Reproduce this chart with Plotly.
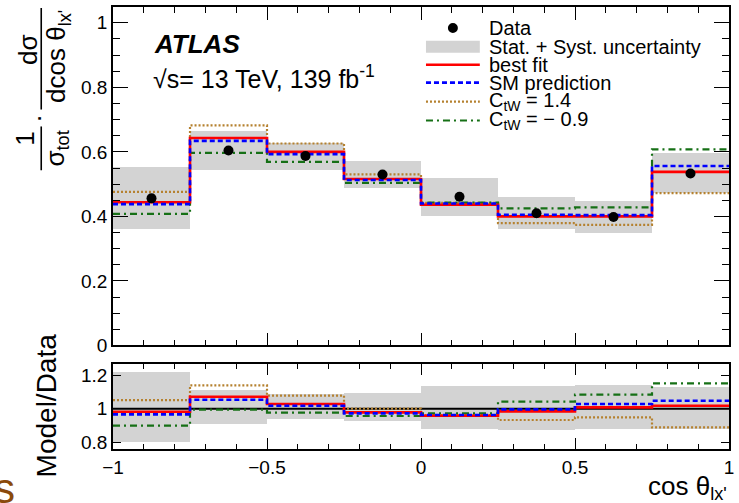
import plotly.graph_objects as go

# ---------------- data ----------------
bin_edges = [-1.0, -0.75, -0.5, -0.25, 0.0, 0.25, 0.5, 0.75, 1.0]
bin_centers = [-0.875, -0.625, -0.375, -0.125, 0.125, 0.375, 0.625, 0.875]

data_vals = [0.456, 0.604, 0.587, 0.530, 0.461, 0.410, 0.398, 0.533]
unc_low = [0.361, 0.544, 0.544, 0.487, 0.402, 0.362, 0.348, 0.474]
unc_high = [0.552, 0.665, 0.628, 0.572, 0.518, 0.459, 0.448, 0.595]
best_fit = [0.444, 0.643, 0.600, 0.516, 0.436, 0.400, 0.400, 0.538]
sm_pred = [0.438, 0.634, 0.593, 0.513, 0.440, 0.405, 0.404, 0.556]
ctw_p14 = [0.476, 0.682, 0.626, 0.530, 0.442, 0.379, 0.374, 0.472]
ctw_m09 = [0.408, 0.597, 0.569, 0.504, 0.443, 0.425, 0.428, 0.608]

r_unc_low = [0.795, 0.904, 0.934, 0.924, 0.878, 0.868, 0.874, 0.878]
r_unc_high = [1.217, 1.108, 1.088, 1.092, 1.132, 1.132, 1.138, 1.128]
r_best_fit = [0.982, 1.072, 1.028, 0.978, 0.958, 0.984, 1.008, 1.018]
r_sm_pred = [0.966, 1.054, 1.018, 0.972, 0.962, 0.996, 1.028, 1.048]
r_ctw_p14 = [1.052, 1.140, 1.078, 1.000, 0.962, 0.932, 0.948, 0.888]
r_ctw_m09 = [0.898, 0.994, 0.976, 0.956, 0.972, 1.042, 1.084, 1.152]

main_yticks = [0, 0.2, 0.4, 0.6, 0.8, 1.0]
ratio_yticks = [0.8, 1.0, 1.2]
ratio_yticklabels = ["0.8", "1", "1.2"]

legend_labels = ["Data", "Stat. + Syst. uncertainty", "best fit", "SM prediction",
                 "C<sub>tW</sub> = 1.4", "C<sub>tW</sub> = \u2212 0.9"]

# ---------------- styles ----------------
FONT = "Liberation Sans, Arial, Helvetica, sans-serif"
GREY = "#d3d3d3"
RED = "#ff0000"
BLUE = "#0000ff"
ORANGE = "#b5812f"
GREEN = "#167016"

W, H = 739, 503
ML, MR, MT, MB = 113, 8, 5, 54
PW, PH = W - ML - MR, H - MT - MB


def px(x):
    return (x - ML) / PW


def py(y):
    return (H - MB - y) / PH


styles = {
    "bf": dict(color=RED, width=2.6, dash="solid"),
    "sm": dict(color=BLUE, width=2.6, dash="5px,3px"),
    "p14": dict(color=ORANGE, width=2.2, dash="2px,2px"),
    "m09": dict(color=GREEN, width=2.2, dash="7px,4px,2px,4px"),
}

fig = go.Figure()


def step(vals, style, xa, ya):
    fig.add_trace(go.Scatter(x=bin_edges, y=list(vals) + [vals[-1]], mode="lines",
                             line=dict(shape="hv", **style), xaxis=xa, yaxis=ya,
                             showlegend=False, hoverinfo="skip"))


# main panel
fig.add_trace(go.Bar(x=bin_centers, y=[h - l for h, l in zip(unc_high, unc_low)], base=unc_low,
                     width=0.25, marker=dict(color=GREY, line=dict(width=0)),
                     xaxis="x", yaxis="y", showlegend=False))
step(ctw_p14, styles["p14"], "x", "y")
step(ctw_m09, styles["m09"], "x", "y")
step(best_fit, styles["bf"], "x", "y")
step(sm_pred, styles["sm"], "x", "y")
fig.add_trace(go.Scatter(x=bin_centers, y=data_vals, mode="markers",
                         marker=dict(color="black", size=10), xaxis="x", yaxis="y",
                         showlegend=False))

# ratio panel
fig.add_trace(go.Bar(x=bin_centers, y=[h - l for h, l in zip(r_unc_high, r_unc_low)], base=r_unc_low,
                     width=0.25, marker=dict(color=GREY, line=dict(width=0)),
                     xaxis="x2", yaxis="y2", showlegend=False))
fig.add_trace(go.Scatter(x=[bin_edges[0], bin_edges[-1]], y=[1, 1], mode="lines",
                         line=dict(color="black", width=2), xaxis="x2", yaxis="y2",
                         showlegend=False))
step(r_ctw_p14, styles["p14"], "x2", "y2")
step(r_ctw_m09, styles["m09"], "x2", "y2")
step(r_best_fit, styles["bf"], "x2", "y2")
step(r_sm_pred, styles["sm"], "x2", "y2")

axis_common = dict(showline=True, linecolor="black", linewidth=1.5, mirror="allticks",
                   ticks="inside", tickcolor="black", showgrid=False, zeroline=False,
                   tickfont=dict(family=FONT, size=19, color="black"))

fig.update_layout(
    width=W, height=H, autosize=False,
    margin=dict(l=ML, r=MR, t=MT, b=MB),
    paper_bgcolor="white", plot_bgcolor="white",
    barmode="overlay", bargap=0,
    showlegend=False,
    xaxis=dict(domain=[0, 1], range=[-1, 1], anchor="y", dtick=0.5, tick0=-1, ticklen=13,
               tickwidth=1.3, minor=dict(dtick=0.1, tick0=-1, ticklen=6, ticks="inside",
                                         tickcolor="black", tickwidth=1.2),
               showticklabels=False, **axis_common),
    yaxis=dict(domain=[py(345), 1], range=[0, 1.049], anchor="x", tickvals=main_yticks,
               ticktext=["0", "0.2", "0.4", "0.6", "0.8", "1"], ticklen=15, tickwidth=1.3,
               minor=dict(dtick=0.05, tick0=0, ticklen=7, ticks="inside", tickcolor="black",
                          tickwidth=1.2),
               **axis_common),
    xaxis2=dict(domain=[0, 1], range=[-1, 1], anchor="y2", tickvals=[-1, -0.5, 0, 0.5, 1],
                ticktext=["\u22121", "\u22120.5", "0", "0.5", "1"], ticklen=11, tickwidth=1.3,
                minor=dict(dtick=0.1, tick0=-1, ticklen=5, ticks="inside", tickcolor="black",
                           tickwidth=1.2),
                **axis_common),
    yaxis2=dict(domain=[0, py(364)], range=[0.758, 1.266], anchor="x2", tickvals=ratio_yticks,
                ticktext=ratio_yticklabels, ticklen=8, tickwidth=1.3, **axis_common),
)

ann = []
shapes = []


def text(x, y, t, size, xanchor="center", yanchor="middle", angle=0, color="black", **kw):
    ann.append(dict(x=px(x), y=py(y), xref="paper", yref="paper", text=t, showarrow=False,
                    xanchor=xanchor, yanchor=yanchor, textangle=angle,
                    font=dict(family=FONT, size=size, color=color), **kw))


# ATLAS labels
text(152, 42, "<b><i>ATLAS</i></b>", 26, xanchor="left")
text(151, 75, "\u221as= 13 TeV, 139 fb<sup>-1</sup>", 25, xanchor="left")

# legend
leg_rows = [26, 45, 63, 81, 100, 119]
lx0, lx1, ltx = 427, 481, 488
shapes.append(dict(type="circle", xref="paper", yref="paper", x0=px(449), x1=px(459),
                   y0=py(leg_rows[0] + 5), y1=py(leg_rows[0] - 5), fillcolor="black",
                   line=dict(width=0)))
shapes.append(dict(type="rect", xref="paper", yref="paper", x0=px(lx0), x1=px(lx1),
                   y0=py(leg_rows[1] + 6), y1=py(leg_rows[1] - 6), fillcolor=GREY,
                   line=dict(width=0)))
for row, key in zip(leg_rows[2:], ["bf", "sm", "p14", "m09"]):
    st = styles[key]
    shapes.append(dict(type="line", xref="paper", yref="paper", x0=px(lx0), x1=px(lx1),
                       y0=py(row), y1=py(row),
                       line=dict(color=st["color"], width=st["width"], dash=st["dash"])))
for row, lab in zip(leg_rows, legend_labels):
    text(ltx, row, lab, 20, xanchor="left")

# y-axis title (fraction form)
text(25, 137, "1", 26, angle=-90)
text(56, 147, "\u03c3<sub>tot</sub>", 26, angle=-90)
shapes.append(dict(type="line", xref="paper", yref="paper", x0=px(41), x1=px(41),
                   y0=py(125), y1=py(169), line=dict(color="black", width=1.6)))
text(38, 117, "\u00b7", 26, angle=-90)
text(28, 48, "d\u03c3", 26, angle=-90)
shapes.append(dict(type="line", xref="paper", yref="paper", x0=px(41), x1=px(41),
                   y0=py(6), y1=py(108), line=dict(color="black", width=1.6)))
text(58, 55, "dcos \u03b8<sub>lx'</sub>", 26, angle=-90)

# ratio title
text(46, 405, "Model/Data", 28, angle=-90)

# x-axis title
text(731, 488, "cos \u03b8<sub>lx'</sub>", 26, xanchor="right")

# stray fragment of page text at bottom-left
text(17, 489, "s", 42, xanchor="right", color="#8a4a0c")

fig.update_layout(annotations=ann, shapes=shapes)

fig.write_html("out.html", config={"displayModeBar": False},
               post_script="document.body.style.margin='0px';document.body.style.padding='0px';")
